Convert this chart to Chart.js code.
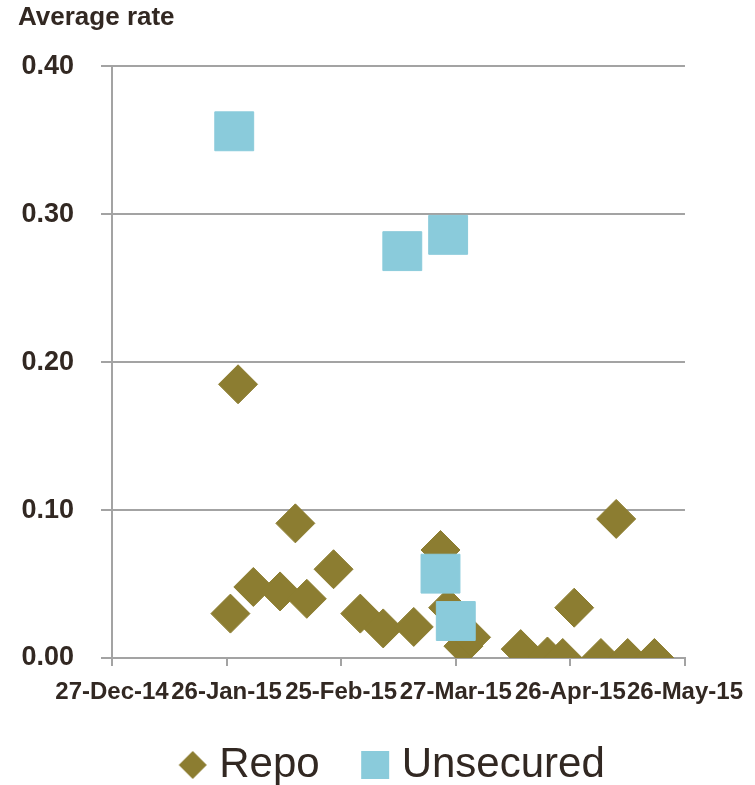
<!DOCTYPE html>
<html>
<head>
<meta charset="utf-8">
<title>Average rate</title>
<script src="https://cdn.jsdelivr.net/npm/chart.js@4.4.1/dist/chart.umd.min.js"></script>
<style>
html, body { margin: 0; padding: 0; background: #fff; }
#wrap { width: 755px; height: 785px; }
</style>
</head>
<body>
<div id="wrap"><canvas id="myChart" width="755" height="785"></canvas></div>
<script>
// axis
var startDate = '2014-12-27'
var tickLabels = ['27-Dec-14', '26-Jan-15', '25-Feb-15', '27-Mar-15', '26-Apr-15', '26-May-15']

// repo trades
var repoDates = ['2015-01-27', '2015-01-29', '2015-02-02', '2015-02-09', '2015-02-13', '2015-02-16',
                 '2015-02-23', '2015-03-02', '2015-03-08', '2015-03-16', '2015-03-23', '2015-03-25',
                 '2015-03-29', '2015-03-31', '2015-04-13', '2015-04-20', '2015-04-24', '2015-04-27',
                 '2015-05-04', '2015-05-08', '2015-05-11', '2015-05-18']
var repoRates = [0.030, 0.185, 0.048, 0.045, 0.091, 0.040,
                 0.060, 0.030, 0.020, 0.021, 0.073, 0.034,
                 0.008, 0.014, 0.006, 0.001, 0.000, 0.034,
                 0.000, 0.094, 0.000, 0.000]

// unsecured trades
var unsecuredDates = ['2015-01-28', '2015-03-13', '2015-03-23', '2015-03-25', '2015-03-27']
var unsecuredRates = [0.356, 0.275, 0.057, 0.286, 0.025]

var textColor = '#322822'
var gridColor = '#a3a3a3'
var repoColor = '#8c7d31'
var unsecuredColor = '#8acbdb'
var fontFamily = "'Liberation Sans', Arial, sans-serif"

function dayNum(s) {
    var a = s.split('-'), b = startDate.split('-')
    return (Date.UTC(+a[0], a[1] - 1, +a[2]) - Date.UTC(+b[0], b[1] - 1, +b[2])) / 86400000
}

function toPoints(dates, rates) {
    var pts = []
    for (var i = 0; i < dates.length; i++) {
        pts.push({ x: dayNum(dates[i]), y: rates[i] })
    }
    return pts
}

// legend markers, drawn once. mark sits a bit left of the image centre
function marker(shape, color) {
    var c = document.createElement('canvas')
    c.width = 35
    c.height = 30
    var g = c.getContext('2d')
    g.fillStyle = color
    g.beginPath()
    if (shape == 'diamond') {
        g.moveTo(15, 1); g.lineTo(29, 15); g.lineTo(15, 29); g.lineTo(1, 15)
        g.closePath()
    } else {
        g.rect(1, 1, 28, 28)
    }
    g.fill()
    return c
}
var legendMarks = [marker('diamond', repoColor), marker('square', unsecuredColor)]

// the big item padding pushes the legend row down, pull it back up
var legendNudge = {
    id: 'legendNudge',
    afterLayout: function(chart) {
        chart.legend.top -= 18
        chart.legend.bottom -= 18
    }
}

var ctx = document.getElementById('myChart').getContext('2d')
var chart = new Chart(ctx, {
    type: 'scatter',
    data: {
        datasets: [
            {
                label: 'Repo',
                data: toPoints(repoDates, repoRates),
                pointStyle: 'rectRot',
                pointRadius: 19.5,
                backgroundColor: repoColor,
                borderColor: repoColor,
                borderWidth: 1,
                order: 2
            },
            {
                label: 'Unsecured',
                data: toPoints(unsecuredDates, unsecuredRates),
                pointStyle: 'rect',
                pointRadius: 27.5,
                backgroundColor: unsecuredColor,
                borderColor: unsecuredColor,
                borderWidth: 1,
                order: 1
            }
        ]
    },
    plugins: [legendNudge],
    options: {
        responsive: false,
        animation: false,
        events: [],
        layout: { padding: { left: 18, right: 69, top: 0, bottom: -29 } },
        plugins: {
            tooltip: { enabled: false },
            title: {
                display: true,
                text: 'Average rate',
                align: 'start',
                color: textColor,
                font: { family: fontFamily, size: 26, weight: 'bold' },
                padding: { top: 2, bottom: 33 }
            },
            legend: {
                position: 'bottom',
                fullSize: false,
                labels: {
                    usePointStyle: true,
                    boxWidth: 6,
                    boxHeight: 28,
                    padding: 55,
                    color: textColor,
                    font: { family: fontFamily, size: 42, lineHeight: 1 },
                    sort: function(a, b) { return a.datasetIndex - b.datasetIndex },
                    generateLabels: function(chart) {
                        var items = Chart.defaults.plugins.legend.labels.generateLabels(chart)
                        items.forEach(function(it) { it.pointStyle = legendMarks[it.datasetIndex] })
                        return items
                    }
                }
            }
        },
        scales: {
            x: {
                type: 'linear',
                min: 0,
                max: 150,
                border: { color: gridColor, width: 2 },
                grid: { drawOnChartArea: false, drawTicks: true, tickLength: 8, color: gridColor, lineWidth: 2 },
                ticks: {
                    stepSize: 30,
                    autoSkip: false,
                    maxRotation: 0,
                    padding: 12,
                    color: textColor,
                    font: { family: fontFamily, size: 24, weight: 'bold' },
                    callback: function(v) { return tickLabels[Math.round(v / 30)] }
                },
                afterFit: function(scale) { scale.height = 49 }
            },
            y: {
                min: 0,
                max: 0.4,
                border: { color: gridColor, width: 2 },
                grid: { color: gridColor, lineWidth: 2, tickLength: 11 },
                ticks: {
                    stepSize: 0.1,
                    padding: 27,
                    color: textColor,
                    font: { family: fontFamily, size: 27, weight: 'bold' },
                    callback: function(v) { return v.toFixed(2) }
                },
                afterFit: function(scale) { scale.width = 94 }
            }
        }
    }
})
</script>
</body>
</html>
